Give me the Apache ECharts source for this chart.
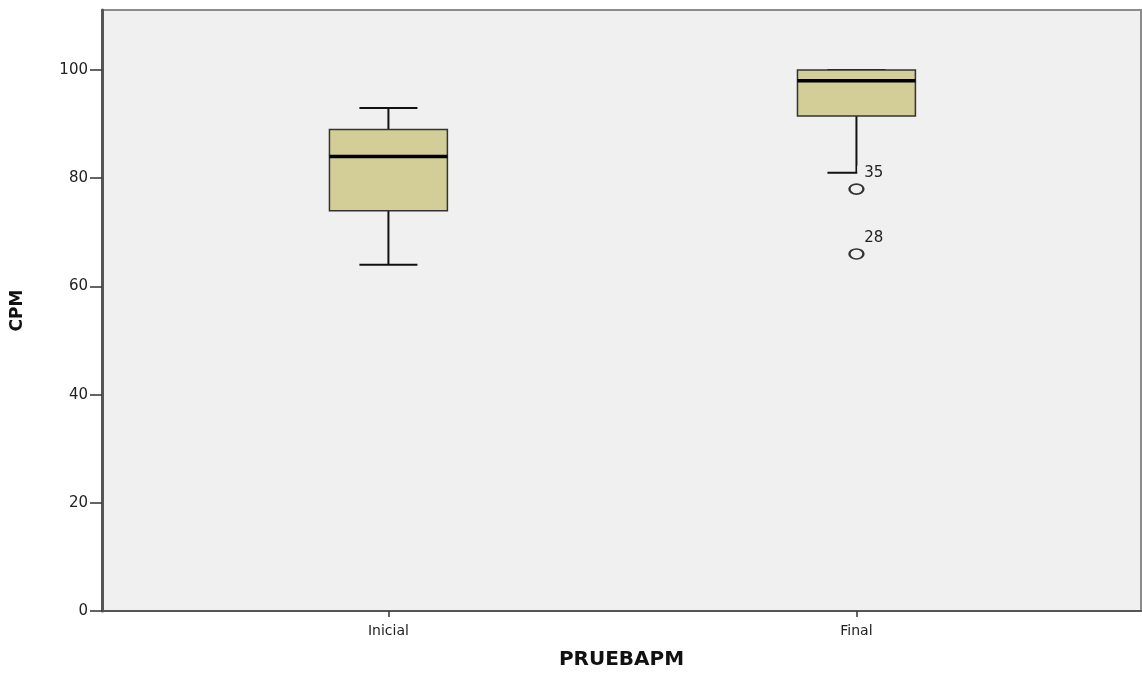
<!DOCTYPE html>
<html>
<head>
<meta charset="utf-8">
<script src="https://cdn.jsdelivr.net/npm/echarts@6/dist/echarts.min.js"></script>
<style>
html,body{margin:0;padding:0;background:#fff;}
#chart{width:1142px;height:675px;}
</style>
</head>
<body>
<div id="chart"></div>
<script>
// ---- data ----
const categories = ['Inicial', 'Final'];
const whiskerLow = [64, 81];
const quartile1 = [74, 91.5];
const medians = [84, 98];
const quartile3 = [89, 100];
const whiskerHigh = [93, 100];
const outlierCategory = [1, 1];
const outlierValue = [78, 66];
const outlierCase = ['35', '28'];
const yTicks = [0, 20, 40, 60, 80, 100];

// ---- build series data ----
const boxData = categories.map((c, i) => [i, whiskerLow[i], quartile1[i], medians[i], quartile3[i], whiskerHigh[i]]);
const outlierData = outlierValue.map((v, i) => ({ value: [outlierCategory[i], v], caseId: outlierCase[i] }));

const FONT = 'DejaVu Sans';
const BOX_RATIO = 0.252;   // box width as fraction of one category unit
const CAP_RATIO = 0.124;   // whisker cap width

const chart = echarts.init(document.getElementById('chart'));
chart.setOption({
  animation: false,
  backgroundColor: '#ffffff',
  grid: {
    left: 102, right: 1, top: 10, bottom: 64,
    show: true, backgroundColor: '#f0f0f0', borderColor: '#8c8c8c', borderWidth: 2
  },
  xAxis: {
    type: 'value',
    min: -0.612, max: 1.608,
    name: 'PRUEBAPM',
    nameLocation: 'middle',
    nameGap: 39,
    nameTextStyle: { fontFamily: FONT, fontWeight: 'bold', fontSize: 20, color: '#111' },
    axisLine: { show: true, onZero: false, lineStyle: { color: '#555', width: 2 } },
    axisTick: { show: true, length: 6, customValues: [0, 1], lineStyle: { color: '#333', width: 1.5 } },
    axisLabel: { customValues: [0, 1], margin: 13, fontFamily: FONT, fontSize: 14, color: '#222',
      formatter: v => categories[Math.round(v)] },
    splitLine: { show: false }
  },
  yAxis: {
    type: 'value',
    min: 0, max: 111.1, interval: 20,
    name: 'CPM',
    nameLocation: 'middle',
    nameGap: 76,
    nameTextStyle: { fontFamily: FONT, fontWeight: 'bold', fontSize: 17, color: '#111' },
    axisLine: { show: true, onZero: false, lineStyle: { color: '#555', width: 3 } },
    axisTick: { show: true, length: 12, customValues: yTicks, lineStyle: { color: '#333', width: 1.5 } },
    axisLabel: { customValues: yTicks, margin: 14, fontFamily: FONT, fontSize: 15, color: '#222' },
    splitLine: { show: false }
  },
  series: [
    {
      type: 'custom',
      z: 2,
      data: boxData,
      encode: { x: 0, y: [1, 2, 3, 4, 5] },
      renderItem: function (params, api) {
        const idx = api.value(0);
        const unit = api.size([1, 0])[0];
        const bw = unit * BOX_RATIO;
        const cw = unit * CAP_RATIO;
        const pLow = api.coord([idx, api.value(1)]);
        const pQ1 = api.coord([idx, api.value(2)]);
        const pMed = api.coord([idx, api.value(3)]);
        const pQ3 = api.coord([idx, api.value(4)]);
        const pHigh = api.coord([idx, api.value(5)]);
        const x = pMed[0];
        const lineStyle = { stroke: '#111', lineWidth: 2, fill: null };
        return {
          type: 'group',
          children: [
            { type: 'line', shape: { x1: x, y1: pQ1[1], x2: x, y2: pLow[1] }, style: lineStyle },
            { type: 'line', shape: { x1: x, y1: pQ3[1], x2: x, y2: pHigh[1] }, style: lineStyle },
            { type: 'line', shape: { x1: x - cw / 2, y1: pLow[1], x2: x + cw / 2, y2: pLow[1] }, style: lineStyle },
            { type: 'line', shape: { x1: x - cw / 2, y1: pHigh[1], x2: x + cw / 2, y2: pHigh[1] }, style: lineStyle },
            { type: 'rect', shape: { x: x - bw / 2, y: pQ3[1], width: bw, height: pQ1[1] - pQ3[1] },
              style: { fill: '#d3ce98', stroke: '#333', lineWidth: 1.5 } },
            { type: 'line', shape: { x1: x - bw / 2, y1: pMed[1], x2: x + bw / 2, y2: pMed[1] },
              style: { stroke: '#000', lineWidth: 3.5 } }
          ]
        };
      }
    },
    {
      type: 'scatter',
      z: 5,
      data: outlierData,
      symbol: 'circle',
      symbolSize: [14, 10],
      itemStyle: { color: 'rgba(0,0,0,0)', borderColor: '#333', borderWidth: 2, opacity: 1 },
      label: {
        show: true,
        formatter: p => p.data.caseId,
        position: [9, -10],
        align: 'left',
        verticalAlign: 'middle',
        fontFamily: FONT,
        fontSize: 15,
        color: '#222',
        opacity: 1,
        textBorderWidth: 0,
        backgroundColor: '#f0f0f0',
        padding: [0, 3, 0, 7]
      }
    }
  ]
});
</script>
</body>
</html>
